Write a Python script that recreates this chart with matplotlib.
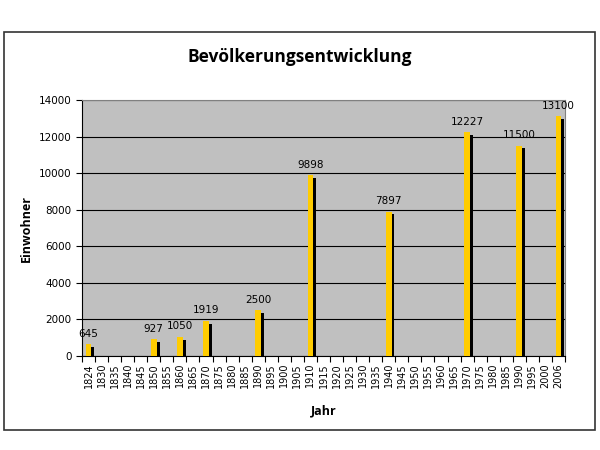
import matplotlib.pyplot as plt
import matplotlib.patheffects as pe
from matplotlib.patches import Rectangle

years = ['1824'] + [str(y) for y in range(1830, 2001, 5)] + ['2006']
known = {'1824': 645, '1850': 927, '1860': 1050, '1870': 1919, '1890': 2500,
         '1910': 9898, '1940': 7897, '1970': 12227, '1990': 11500, '2006': 13100}
einwohner = [known.get(y, 0) for y in years]

fig = plt.figure(figsize=(6, 4.5), dpi=100)
fig.patches.append(Rectangle((4 / 600, 20 / 450), 591 / 600, 398 / 450,
                             transform=fig.transFigure, fill=False,
                             edgecolor='#333333', linewidth=1.2))

ax = fig.add_axes([82 / 600, 1 - 356 / 450, 483 / 600, 256 / 450])
ax.set_facecolor('#C0C0C0')

x = range(len(years))
bars = ax.bar(x, einwohner, width=0.45, color='#FFCC00', linewidth=0, zorder=3)
for b in bars:
    b.set_path_effects([pe.SimplePatchShadow(offset=(2, -2), shadow_rgbFace='black', alpha=1),
                        pe.Normal()])

for i, v in enumerate(einwohner):
    if v:
        ax.text(i, v + 300, str(v), ha='center', va='bottom', fontsize=7.5,
                family='DejaVu Sans', zorder=4)

ax.set_xlim(-0.5, len(years) - 0.5)
ax.set_ylim(0, 14000)
ax.set_yticks(range(0, 14001, 2000))
ax.yaxis.grid(True, color='black', linewidth=0.8)
ax.set_axisbelow(True)
ax.set_xticks([i - 0.5 for i in x] + [len(years) - 0.5], minor=False)
ax.set_xticklabels([''] * (len(years) + 1))
ax.set_xticks(list(x), minor=True)
ax.set_xticklabels(years, minor=True, rotation=90, fontsize=7)
ax.tick_params(axis='x', which='minor', length=0, pad=5)
ax.tick_params(axis='x', which='major', length=4, direction='out')
ax.tick_params(axis='y', labelsize=7.5, length=4)

for s in ['top', 'right']:
    ax.spines[s].set_color('#808080')
for s in ['left', 'bottom']:
    ax.spines[s].set_color('black')

ax.set_ylabel('Einwohner', fontsize=9, fontweight='bold', family='Open Sans', labelpad=4)
ax.set_xlabel('Jahr', fontsize=9, fontweight='bold', family='Open Sans', labelpad=12)
fig.text(0.5, 1 - 57 / 450, 'Bevölkerungsentwicklung', ha='center', va='center',
         fontsize=12.5, fontweight='bold', family='Open Sans')

fig.savefig('out.png', dpi=100)
